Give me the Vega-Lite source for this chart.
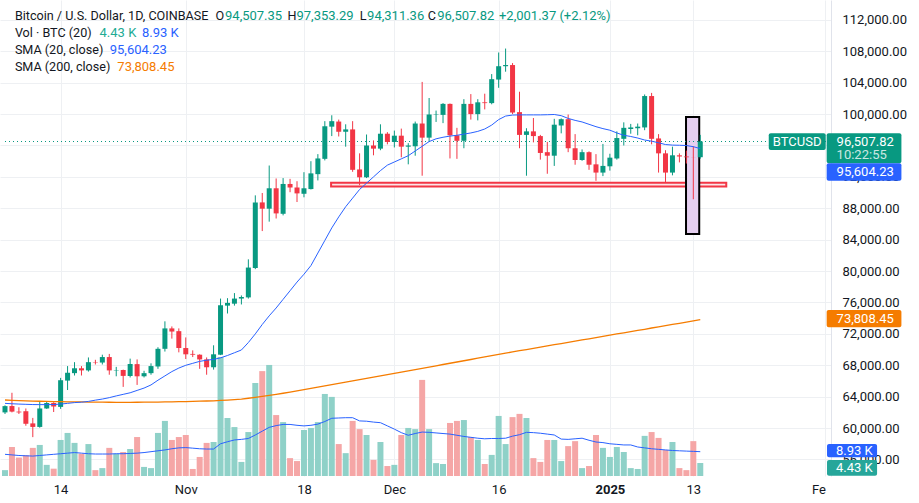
{
  "$schema": "https://vega.github.io/schema/vega-lite/v6.json",
  "width": 831,
  "height": 476,
  "autosize": {"type": "none"},
  "padding": {"left": 0, "top": 0, "right": 88, "bottom": 27},
  "background": "#ffffff",
  "config": {"view": {"stroke": null}, "font": "Roboto"},
  "datasets": {
    "btc": [
    {"d":"2024-10-06","o":62000,"h":62900,"l":61800,"c":62800,"v":2.0,"s20":63150,"s200":63580,"vs":7.4},
    {"d":"2024-10-07","o":62810,"h":64500,"l":62000,"c":62100,"v":9.9,"s20":63100,"s200":63530,"vs":7.2},
    {"d":"2024-10-08","o":62100,"h":62650,"l":61800,"c":62000,"v":6.3,"s20":63060,"s200":63490,"vs":7.0},
    {"d":"2024-10-09","o":62150,"h":62500,"l":60300,"c":60550,"v":7.1,"s20":63030,"s200":63460,"vs":6.9},
    {"d":"2024-10-10","o":60600,"h":61300,"l":58850,"c":60150,"v":9.6,"s20":63000,"s200":63440,"vs":6.8},
    {"d":"2024-10-11","o":60150,"h":63450,"l":60050,"c":62500,"v":10.6,"s20":62990,"s200":63420,"vs":7.0},
    {"d":"2024-10-12","o":62500,"h":63450,"l":62450,"c":63200,"v":3.8,"s20":62990,"s200":63400,"vs":7.2},
    {"d":"2024-10-13","o":63200,"h":63300,"l":62050,"c":62750,"v":2.5,"s20":63000,"s200":63380,"vs":7.4},
    {"d":"2024-10-14","o":62700,"h":66400,"l":62450,"c":66100,"v":12.3,"s20":63060,"s200":63360,"vs":7.6},
    {"d":"2024-10-15","o":66050,"h":67900,"l":64850,"c":67050,"v":14.7,"s20":63150,"s200":63350,"vs":7.8},
    {"d":"2024-10-16","o":67000,"h":68400,"l":66700,"c":67620,"v":11.3,"s20":63250,"s200":63340,"vs":8.0},
    {"d":"2024-10-17","o":67620,"h":67900,"l":66700,"c":67350,"v":7.6,"s20":63300,"s200":63330,"vs":7.8},
    {"d":"2024-10-18","o":67350,"h":69000,"l":67200,"c":68400,"v":10.9,"s20":63400,"s200":63320,"vs":7.6},
    {"d":"2024-10-19","o":68400,"h":68700,"l":68100,"c":68350,"v":2.0,"s20":63560,"s200":63310,"vs":7.5},
    {"d":"2024-10-20","o":68350,"h":69350,"l":68100,"c":69050,"v":2.7,"s20":63700,"s200":63300,"vs":7.5},
    {"d":"2024-10-21","o":69050,"h":69450,"l":66800,"c":67350,"v":9.6,"s20":63880,"s200":63290,"vs":7.5},
    {"d":"2024-10-22","o":67350,"h":67800,"l":66600,"c":67400,"v":7.6,"s20":64100,"s200":63280,"vs":7.6},
    {"d":"2024-10-23","o":67400,"h":67450,"l":65250,"c":66650,"v":8.2,"s20":64300,"s200":63280,"vs":7.6},
    {"d":"2024-10-24","o":66650,"h":68850,"l":66450,"c":68150,"v":9.2,"s20":64500,"s200":63280,"vs":7.7},
    {"d":"2024-10-25","o":68150,"h":68750,"l":65500,"c":66600,"v":13.3,"s20":64800,"s200":63290,"vs":7.8},
    {"d":"2024-10-26","o":66600,"h":67300,"l":66450,"c":67000,"v":3.1,"s20":65100,"s200":63300,"vs":8.0},
    {"d":"2024-10-27","o":67000,"h":68250,"l":66800,"c":67900,"v":2.7,"s20":65500,"s200":63310,"vs":8.3},
    {"d":"2024-10-28","o":67850,"h":70300,"l":67550,"c":70100,"v":14.7,"s20":66100,"s200":63320,"vs":8.6},
    {"d":"2024-10-29","o":70100,"h":73600,"l":69750,"c":72700,"v":18.8,"s20":66650,"s200":63330,"vs":8.9},
    {"d":"2024-10-30","o":72700,"h":72950,"l":71400,"c":72300,"v":12.3,"s20":67200,"s200":63340,"vs":9.3},
    {"d":"2024-10-31","o":72350,"h":72700,"l":69650,"c":70200,"v":13.3,"s20":67650,"s200":63360,"vs":9.6},
    {"d":"2024-11-01","o":70200,"h":71550,"l":68800,"c":69400,"v":14.0,"s20":68000,"s200":63380,"vs":9.7},
    {"d":"2024-11-02","o":69450,"h":69900,"l":69050,"c":69350,"v":2.4,"s20":68250,"s200":63400,"vs":9.5},
    {"d":"2024-11-03","o":69350,"h":69400,"l":67550,"c":68750,"v":6.5,"s20":68500,"s200":63430,"vs":9.3},
    {"d":"2024-11-04","o":68750,"h":69000,"l":66800,"c":67750,"v":11.3,"s20":68650,"s200":63450,"vs":9.2},
    {"d":"2024-11-05","o":67750,"h":70550,"l":67450,"c":69400,"v":11.6,"s20":68750,"s200":63480,"vs":9.2},
    {"d":"2024-11-06","o":69350,"h":76500,"l":69300,"c":75650,"v":40.6,"s20":68950,"s200":63520,"vs":11.0},
    {"d":"2024-11-07","o":75600,"h":76550,"l":74600,"c":75950,"v":19.8,"s20":69250,"s200":63570,"vs":11.7},
    {"d":"2024-11-08","o":75850,"h":77200,"l":75600,"c":76500,"v":16.7,"s20":69600,"s200":63630,"vs":12.3},
    {"d":"2024-11-09","o":76500,"h":76900,"l":75750,"c":76700,"v":4.8,"s20":69950,"s200":63700,"vs":12.5},
    {"d":"2024-11-10","o":76650,"h":81500,"l":76500,"c":80450,"v":15.0,"s20":70900,"s200":63800,"vs":12.8},
    {"d":"2024-11-11","o":80400,"h":89650,"l":80250,"c":88750,"v":31.7,"s20":72000,"s200":63910,"vs":14.0},
    {"d":"2024-11-12","o":88750,"h":89950,"l":85100,"c":87950,"v":35.8,"s20":73200,"s200":64030,"vs":15.3},
    {"d":"2024-11-13","o":87950,"h":93450,"l":86300,"c":90550,"v":37.9,"s20":74300,"s200":64160,"vs":16.6},
    {"d":"2024-11-14","o":90550,"h":91800,"l":86700,"c":87350,"v":20.8,"s20":75300,"s200":64300,"vs":17.2},
    {"d":"2024-11-15","o":87300,"h":91850,"l":87100,"c":91100,"v":18.4,"s20":76400,"s200":64440,"vs":17.6},
    {"d":"2024-11-16","o":91100,"h":91750,"l":90050,"c":90650,"v":6.1,"s20":77500,"s200":64590,"vs":17.6},
    {"d":"2024-11-17","o":90650,"h":91450,"l":88800,"c":89900,"v":5.1,"s20":78600,"s200":64740,"vs":17.3},
    {"d":"2024-11-18","o":89850,"h":92600,"l":89400,"c":90550,"v":15.7,"s20":79600,"s200":64900,"vs":17.1},
    {"d":"2024-11-19","o":90450,"h":94000,"l":90400,"c":92450,"v":16.4,"s20":80700,"s200":65060,"vs":17.3},
    {"d":"2024-11-20","o":92350,"h":94900,"l":91550,"c":94350,"v":18.4,"s20":82300,"s200":65220,"vs":17.7},
    {"d":"2024-11-21","o":94300,"h":99100,"l":94100,"c":98450,"v":28.0,"s20":83900,"s200":65380,"vs":18.6},
    {"d":"2024-11-22","o":98400,"h":99850,"l":97200,"c":99100,"v":27.0,"s20":85500,"s200":65540,"vs":19.7},
    {"d":"2024-11-23","o":99050,"h":99300,"l":97150,"c":97750,"v":10.9,"s20":86900,"s200":65700,"vs":19.8},
    {"d":"2024-11-24","o":97750,"h":98700,"l":95850,"c":98050,"v":7.8,"s20":88200,"s200":65860,"vs":19.9},
    {"d":"2024-11-25","o":98050,"h":99100,"l":92650,"c":92900,"v":18.8,"s20":89300,"s200":66020,"vs":19.9},
    {"d":"2024-11-26","o":92950,"h":95000,"l":90950,"c":91950,"v":16.0,"s20":90400,"s200":66180,"vs":18.8},
    {"d":"2024-11-27","o":91950,"h":97400,"l":91850,"c":96000,"v":14.0,"s20":91200,"s200":66340,"vs":18.7},
    {"d":"2024-11-28","o":96000,"h":96650,"l":94750,"c":95600,"v":5.5,"s20":92000,"s200":66500,"vs":18.4},
    {"d":"2024-11-29","o":95600,"h":98700,"l":95400,"c":97500,"v":11.6,"s20":92800,"s200":66660,"vs":18.2},
    {"d":"2024-11-30","o":97500,"h":97700,"l":96150,"c":96450,"v":3.4,"s20":93500,"s200":66820,"vs":17.1},
    {"d":"2024-12-01","o":96450,"h":97900,"l":95750,"c":97250,"v":3.8,"s20":93900,"s200":66980,"vs":16.0},
    {"d":"2024-12-02","o":97250,"h":98150,"l":94500,"c":95850,"v":14.0,"s20":94300,"s200":67140,"vs":14.8},
    {"d":"2024-12-03","o":95850,"h":96300,"l":93600,"c":96000,"v":16.4,"s20":94700,"s200":67300,"vs":13.9},
    {"d":"2024-12-04","o":95900,"h":99050,"l":94700,"c":98800,"v":16.0,"s20":95300,"s200":67460,"vs":14.5},
    {"d":"2024-12-05","o":98800,"h":104100,"l":92150,"c":97000,"v":32.8,"s20":95900,"s200":67620,"vs":15.0},
    {"d":"2024-12-06","o":97000,"h":102050,"l":96450,"c":99950,"v":16.0,"s20":96500,"s200":67780,"vs":14.9},
    {"d":"2024-12-07","o":99950,"h":100450,"l":99000,"c":100000,"v":4.4,"s20":96850,"s200":67940,"vs":14.7},
    {"d":"2024-12-08","o":99900,"h":101400,"l":98850,"c":101300,"v":4.1,"s20":97050,"s200":68100,"vs":14.5},
    {"d":"2024-12-09","o":101300,"h":101350,"l":94350,"c":97300,"v":18.1,"s20":97200,"s200":68260,"vs":14.3},
    {"d":"2024-12-10","o":97300,"h":98250,"l":94300,"c":96600,"v":18.8,"s20":97300,"s200":68420,"vs":13.9},
    {"d":"2024-12-11","o":96600,"h":101900,"l":95650,"c":101300,"v":19.1,"s20":97450,"s200":68580,"vs":13.5},
    {"d":"2024-12-12","o":101300,"h":102550,"l":99300,"c":100000,"v":13.3,"s20":97600,"s200":68740,"vs":13.2},
    {"d":"2024-12-13","o":100000,"h":101900,"l":99200,"c":101500,"v":12.3,"s20":97800,"s200":68900,"vs":12.9},
    {"d":"2024-12-14","o":101500,"h":102600,"l":100600,"c":101400,"v":4.1,"s20":98100,"s200":69060,"vs":12.7},
    {"d":"2024-12-15","o":101400,"h":105100,"l":101250,"c":104450,"v":7.2,"s20":98600,"s200":69220,"vs":12.8},
    {"d":"2024-12-16","o":104400,"h":107850,"l":103350,"c":106100,"v":20.5,"s20":99300,"s200":69380,"vs":12.8},
    {"d":"2024-12-17","o":106100,"h":108350,"l":105400,"c":106250,"v":10.9,"s20":99750,"s200":69540,"vs":12.9},
    {"d":"2024-12-18","o":106250,"h":106500,"l":100000,"c":100200,"v":20.1,"s20":99880,"s200":69700,"vs":13.6},
    {"d":"2024-12-19","o":100250,"h":102850,"l":95650,"c":97350,"v":21.2,"s20":99900,"s200":69860,"vs":14.1},
    {"d":"2024-12-20","o":97350,"h":98200,"l":92150,"c":97800,"v":19.8,"s20":99900,"s200":70010,"vs":14.9},
    {"d":"2024-12-21","o":97800,"h":99500,"l":96400,"c":97200,"v":6.1,"s20":99900,"s200":70160,"vs":14.8},
    {"d":"2024-12-22","o":97200,"h":97350,"l":94200,"c":95050,"v":4.8,"s20":99900,"s200":70320,"vs":14.6},
    {"d":"2024-12-23","o":95150,"h":96450,"l":92400,"c":94700,"v":12.3,"s20":99920,"s200":70470,"vs":14.3},
    {"d":"2024-12-24","o":94700,"h":99400,"l":93400,"c":98650,"v":12.3,"s20":99950,"s200":70620,"vs":14.0},
    {"d":"2024-12-25","o":98550,"h":99450,"l":97550,"c":99350,"v":5.1,"s20":99800,"s200":70770,"vs":12.6},
    {"d":"2024-12-26","o":99350,"h":99950,"l":95150,"c":95650,"v":10.2,"s20":99450,"s200":70920,"vs":12.5},
    {"d":"2024-12-27","o":95650,"h":97450,"l":93550,"c":94150,"v":11.9,"s20":99200,"s200":71070,"vs":12.7},
    {"d":"2024-12-28","o":94150,"h":95500,"l":94050,"c":95150,"v":2.7,"s20":99000,"s200":71230,"vs":12.9},
    {"d":"2024-12-29","o":95150,"h":95250,"l":92900,"c":93550,"v":3.4,"s20":98700,"s200":71380,"vs":12.2},
    {"d":"2024-12-30","o":93600,"h":94900,"l":91500,"c":92550,"v":14.0,"s20":98400,"s200":71530,"vs":11.6},
    {"d":"2024-12-31","o":92550,"h":96200,"l":92100,"c":93400,"v":9.6,"s20":98150,"s200":71680,"vs":11.4},
    {"d":"2025-01-01","o":93350,"h":94950,"l":92800,"c":94450,"v":6.5,"s20":97950,"s200":71830,"vs":11.0},
    {"d":"2025-01-02","o":94350,"h":97800,"l":94200,"c":96950,"v":9.9,"s20":97600,"s200":71990,"vs":10.8},
    {"d":"2025-01-03","o":96850,"h":98950,"l":96000,"c":98250,"v":8.2,"s20":97300,"s200":72140,"vs":10.6},
    {"d":"2025-01-04","o":98100,"h":98750,"l":97500,"c":98300,"v":2.7,"s20":97150,"s200":72290,"vs":10.6},
    {"d":"2025-01-05","o":98200,"h":98800,"l":97300,"c":98400,"v":2.4,"s20":96950,"s200":72440,"vs":9.9},
    {"d":"2025-01-06","o":98300,"h":102500,"l":97950,"c":102300,"v":13.7,"s20":96700,"s200":72590,"vs":9.6},
    {"d":"2025-01-07","o":102300,"h":102700,"l":96150,"c":96850,"v":15.0,"s20":96550,"s200":72750,"vs":9.3},
    {"d":"2025-01-08","o":96900,"h":97450,"l":92550,"c":95000,"v":13.0,"s20":96350,"s200":72900,"vs":9.1},
    {"d":"2025-01-09","o":95000,"h":95400,"l":91350,"c":92550,"v":8.9,"s20":96120,"s200":73050,"vs":8.9},
    {"d":"2025-01-10","o":92550,"h":95850,"l":92200,"c":94750,"v":11.6,"s20":96050,"s200":73200,"vs":8.7},
    {"d":"2025-01-11","o":94750,"h":95000,"l":93850,"c":94600,"v":2.7,"s20":96030,"s200":73350,"vs":8.6},
    {"d":"2025-01-12","o":94600,"h":95350,"l":93700,"c":94500,"v":2.0,"s20":96000,"s200":73510,"vs":8.5},
    {"d":"2025-01-13","o":94500,"h":95900,"l":89150,"c":94490,"v":11.9,"s20":95850,"s200":73660,"vs":8.4},
    {"d":"2025-01-14","o":94507.35,"h":97353.29,"l":94311.36,"c":96507.82,"v":4.43,"s20":95604.23,"s200":73808.45,"vs":8.3}
    ],
    "one": [{"k": 1}]
  },
  "layer": [
    {
      "layer": [
        {
          "data": {"name": "btc"},
          "mark": {"type": "bar", "width": 6},
          "encoding": {
            "x": {"field": "d", "type": "temporal", "title": null,
              "scale": {"type": "utc", "domain": [{"year": 2024, "month": 10, "date": 6, "utc": true}, {"year": 2025, "month": 2, "date": 1, "hours": 2, "utc": true}]},
              "axis": {
                "title": null,
                "values": [
                  {"year": 2024, "month": 10, "date": 14, "utc": true},
                  {"year": 2024, "month": 11, "date": 1, "utc": true},
                  {"year": 2024, "month": 11, "date": 18, "utc": true},
                  {"year": 2024, "month": 12, "date": 1, "utc": true},
                  {"year": 2024, "month": 12, "date": 16, "utc": true},
                  {"year": 2025, "month": 1, "date": 1, "utc": true},
                  {"year": 2025, "month": 1, "date": 13, "utc": true},
                  {"year": 2025, "month": 2, "date": 1, "utc": true}
                ],
                "labelExpr": "utcdate(datum.value) == 1 ? (utcmonth(datum.value) == 0 ? '2025' : (utcmonth(datum.value) == 1 ? 'Fe' : utcFormat(datum.value, '%b'))) : utcFormat(datum.value, '%-d')",
                "labelFontWeight": {"condition": {"test": "utcmonth(datum.value) == 0 && utcdate(datum.value) == 1", "value": "bold"}, "value": "normal"},
                "labelAlign": {"condition": {"test": "utcmonth(datum.value) == 1 && utcdate(datum.value) == 1", "value": "right"}, "value": "center"},
                "labelFontSize": 13, "labelColor": "#131722", "labelFont": "Roboto",
                "labelPadding": 7, "ticks": false, "tickSize": 0, "domain": false,
                "grid": true, "gridColor": "#eef0f3",
                "labelFlush": false, "labelOverlap": false, "labelBound": false
              }
            },
            "y": {"field": "v", "type": "quantitative", "title": null, "axis": null, "scale": {"domain": [0, 162.46], "nice": false, "zero": true}},
            "color": {"condition": {"test": "datum.c >= datum.o", "value": "#8fd1c8"}, "value": "#f5a6a6"}
          }
        },
        {
          "data": {"name": "btc"},
          "mark": {"type": "line", "color": "#2962ff", "strokeWidth": 1},
          "encoding": {
            "x": {"field": "d", "type": "temporal", "title": null},
            "y": {"field": "vs", "type": "quantitative", "title": null, "axis": null}
          }
        },
        {
          "data": {"name": "one"},
          "mark": {"type": "rect", "color": "#2962ff", "cornerRadius": 2},
          "encoding": {
            "x": {"datum": {"year": 2025, "month": 2, "date": 1, "hours": 5, "minutes": 31, "utc": true}, "type": "temporal"},
            "x2": {"datum": {"year": 2025, "month": 2, "date": 8, "hours": 10, "minutes": 19, "utc": true}},
            "y": {"datum": 10.92, "type": "quantitative", "axis": null},
            "y2": {"datum": 6.38}
          }
        },
        {
          "data": {"name": "one"},
          "mark": {"type": "text", "text": "8.93 K", "align": "left", "baseline": "middle", "fontSize": 13, "color": "#ffffff"},
          "encoding": {
            "x": {"datum": {"year": 2025, "month": 2, "date": 2, "hours": 12, "minutes": 14, "utc": true}, "type": "temporal"},
            "y": {"datum": 8.7, "type": "quantitative", "axis": null}
          }
        },
        {
          "data": {"name": "one"},
          "mark": {"type": "rect", "color": "#26a69a", "cornerRadius": 2},
          "encoding": {
            "x": {"datum": {"year": 2025, "month": 2, "date": 1, "hours": 5, "minutes": 31, "utc": true}, "type": "temporal"},
            "x2": {"datum": {"year": 2025, "month": 2, "date": 8, "hours": 10, "minutes": 19, "utc": true}},
            "y": {"datum": 5.46, "type": "quantitative", "axis": null},
            "y2": {"datum": 0.1}
          }
        },
        {
          "data": {"name": "one"},
          "mark": {"type": "text", "text": "4.43 K", "align": "left", "baseline": "middle", "fontSize": 13, "color": "#ffffff"},
          "encoding": {
            "x": {"datum": {"year": 2025, "month": 2, "date": 2, "hours": 12, "minutes": 14, "utc": true}, "type": "temporal"},
            "y": {"datum": 2.73, "type": "quantitative", "axis": null}
          }
        }
      ]
    },
    {
      "layer": [
        {
          "data": {"name": "btc"},
          "mark": {"type": "rule", "strokeWidth": 1},
          "encoding": {
            "x": {"field": "d", "type": "temporal", "title": null},
            "y": {
              "field": "l", "type": "quantitative", "title": null,
              "scale": {"domain": [53898, 114535], "nice": false, "zero": false},
              "axis": {"orient": "right", "title": null, "values": [56000, 60000, 64000, 68000, 72000, 76000, 80000, 84000, 88000, 92000, 96000, 100000, 104000, 108000, 112000], "format": ",.2f", "grid": true, "gridColor": "#eef0f3", "ticks": false, "tickSize": 0, "labelPadding": 11, "labelAlign": "left", "labelBaseline": "middle", "labelFontSize": 13, "labelColor": "#131722", "labelFont": "Roboto", "domain": true, "domainColor": "#e0e3eb", "labelOverlap": false, "labelFlush": false, "labelBound": false}
            },
            "y2": {"field": "h"},
            "color": {"condition": {"test": "datum.c >= datum.o", "value": "#089981"}, "value": "#f23645"},
            "opacity": {"value": 0}
          }
        },
        {
          "data": {"name": "one"},
          "mark": {"type": "rect", "fill": "#fce6e8", "stroke": "#f23645", "strokeWidth": 2},
          "encoding": {
            "x": {"datum": {"year": 2024, "month": 11, "date": 21, "hours": 21, "minutes": 36, "utc": true}, "type": "temporal"},
            "x2": {"datum": {"year": 2025, "month": 1, "date": 17, "hours": 17, "minutes": 45, "utc": true}},
            "y": {"datum": 91261, "type": "quantitative", "axis": {"orient": "right", "title": null, "values": [56000, 60000, 64000, 68000, 72000, 76000, 80000, 84000, 88000, 92000, 96000, 100000, 104000, 108000, 112000], "format": ",.2f", "grid": true, "gridColor": "#eef0f3", "ticks": false, "tickSize": 0, "labelPadding": 11, "labelAlign": "left", "labelBaseline": "middle", "labelFontSize": 13, "labelColor": "#131722", "labelFont": "Roboto", "domain": true, "domainColor": "#e0e3eb", "labelOverlap": false, "labelFlush": false, "labelBound": false}},
            "y2": {"datum": 90790}
          }
        },
        {
          "data": {"name": "one"},
          "mark": {"type": "rect", "fill": "#e5cff0", "stroke": "#000000", "strokeWidth": 2},
          "encoding": {
            "x": {"datum": {"year": 2025, "month": 1, "date": 11, "hours": 22, "minutes": 48, "utc": true}, "type": "temporal"},
            "x2": {"datum": {"year": 2025, "month": 1, "date": 13, "hours": 20, "minutes": 24, "utc": true}},
            "y": {"datum": 99631, "type": "quantitative", "axis": {"orient": "right", "title": null, "values": [56000, 60000, 64000, 68000, 72000, 76000, 80000, 84000, 88000, 92000, 96000, 100000, 104000, 108000, 112000], "format": ",.2f", "grid": true, "gridColor": "#eef0f3", "ticks": false, "tickSize": 0, "labelPadding": 11, "labelAlign": "left", "labelBaseline": "middle", "labelFontSize": 13, "labelColor": "#131722", "labelFont": "Roboto", "domain": true, "domainColor": "#e0e3eb", "labelOverlap": false, "labelFlush": false, "labelBound": false}},
            "y2": {"datum": 84726}
          }
        },
        {
          "data": {"name": "one"},
          "mark": {"type": "rule", "color": "#089981", "strokeWidth": 1, "strokeDash": [1, 3]},
          "encoding": {
            "x": {"datum": {"year": 2024, "month": 10, "date": 6, "utc": true}, "type": "temporal"},
            "x2": {"datum": {"year": 2025, "month": 2, "date": 1, "hours": 2, "utc": true}},
            "y": {"datum": 96507.82, "type": "quantitative", "axis": {"orient": "right", "title": null, "values": [56000, 60000, 64000, 68000, 72000, 76000, 80000, 84000, 88000, 92000, 96000, 100000, 104000, 108000, 112000], "format": ",.2f", "grid": true, "gridColor": "#eef0f3", "ticks": false, "tickSize": 0, "labelPadding": 11, "labelAlign": "left", "labelBaseline": "middle", "labelFontSize": 13, "labelColor": "#131722", "labelFont": "Roboto", "domain": true, "domainColor": "#e0e3eb", "labelOverlap": false, "labelFlush": false, "labelBound": false}}
          }
        },
        {
          "data": {"name": "btc"},
          "mark": {"type": "rule", "strokeWidth": 1},
          "encoding": {
            "x": {"field": "d", "type": "temporal", "title": null},
            "y": {"field": "l", "type": "quantitative", "title": null, "axis": {"orient": "right", "title": null, "values": [56000, 60000, 64000, 68000, 72000, 76000, 80000, 84000, 88000, 92000, 96000, 100000, 104000, 108000, 112000], "format": ",.2f", "grid": true, "gridColor": "#eef0f3", "ticks": false, "tickSize": 0, "labelPadding": 11, "labelAlign": "left", "labelBaseline": "middle", "labelFontSize": 13, "labelColor": "#131722", "labelFont": "Roboto", "domain": true, "domainColor": "#e0e3eb", "labelOverlap": false, "labelFlush": false, "labelBound": false}},
            "y2": {"field": "h"},
            "color": {"condition": {"test": "datum.c >= datum.o", "value": "#089981"}, "value": "#f23645"}
          }
        },
        {
          "data": {"name": "btc"},
          "mark": {"type": "bar", "width": 5},
          "encoding": {
            "x": {"field": "d", "type": "temporal", "title": null},
            "y": {"field": "o", "type": "quantitative", "title": null, "axis": {"orient": "right", "title": null, "values": [56000, 60000, 64000, 68000, 72000, 76000, 80000, 84000, 88000, 92000, 96000, 100000, 104000, 108000, 112000], "format": ",.2f", "grid": true, "gridColor": "#eef0f3", "ticks": false, "tickSize": 0, "labelPadding": 11, "labelAlign": "left", "labelBaseline": "middle", "labelFontSize": 13, "labelColor": "#131722", "labelFont": "Roboto", "domain": true, "domainColor": "#e0e3eb", "labelOverlap": false, "labelFlush": false, "labelBound": false}},
            "y2": {"field": "c"},
            "color": {"condition": {"test": "datum.c >= datum.o", "value": "#089981"}, "value": "#f23645"}
          }
        },
        {
          "data": {"name": "btc"},
          "mark": {"type": "line", "color": "#f57c00", "strokeWidth": 1.3},
          "encoding": {
            "x": {"field": "d", "type": "temporal", "title": null},
            "y": {"field": "s200", "type": "quantitative", "title": null, "axis": {"orient": "right", "title": null, "values": [56000, 60000, 64000, 68000, 72000, 76000, 80000, 84000, 88000, 92000, 96000, 100000, 104000, 108000, 112000], "format": ",.2f", "grid": true, "gridColor": "#eef0f3", "ticks": false, "tickSize": 0, "labelPadding": 11, "labelAlign": "left", "labelBaseline": "middle", "labelFontSize": 13, "labelColor": "#131722", "labelFont": "Roboto", "domain": true, "domainColor": "#e0e3eb", "labelOverlap": false, "labelFlush": false, "labelBound": false}}
          }
        },
        {
          "data": {"name": "btc"},
          "mark": {"type": "line", "color": "#2962ff", "strokeWidth": 1},
          "encoding": {
            "x": {"field": "d", "type": "temporal", "title": null},
            "y": {"field": "s20", "type": "quantitative", "title": null, "axis": {"orient": "right", "title": null, "values": [56000, 60000, 64000, 68000, 72000, 76000, 80000, 84000, 88000, 92000, 96000, 100000, 104000, 108000, 112000], "format": ",.2f", "grid": true, "gridColor": "#eef0f3", "ticks": false, "tickSize": 0, "labelPadding": 11, "labelAlign": "left", "labelBaseline": "middle", "labelFontSize": 13, "labelColor": "#131722", "labelFont": "Roboto", "domain": true, "domainColor": "#e0e3eb", "labelOverlap": false, "labelFlush": false, "labelBound": false}}
          }
        },
        {
          "data": {"name": "one"},
          "mark": {"type": "rect", "color": "#089981", "cornerRadius": 2},
          "encoding": {
            "x": {"datum": {"year": 2025, "month": 1, "date": 23, "hours": 20, "minutes": 24, "utc": true}, "type": "temporal"},
            "x2": {"datum": {"year": 2025, "month": 2, "date": 1, "hours": 0, "minutes": 58, "utc": true}},
            "y": {"datum": 97554, "type": "quantitative", "axis": {"orient": "right", "title": null, "values": [56000, 60000, 64000, 68000, 72000, 76000, 80000, 84000, 88000, 92000, 96000, 100000, 104000, 108000, 112000], "format": ",.2f", "grid": true, "gridColor": "#eef0f3", "ticks": false, "tickSize": 0, "labelPadding": 11, "labelAlign": "left", "labelBaseline": "middle", "labelFontSize": 13, "labelColor": "#131722", "labelFont": "Roboto", "domain": true, "domainColor": "#e0e3eb", "labelOverlap": false, "labelFlush": false, "labelBound": false}},
            "y2": {"datum": 95426}
          }
        },
        {
          "data": {"name": "one"},
          "mark": {"type": "text", "text": "BTCUSD", "align": "center", "baseline": "middle", "fontSize": 13, "color": "#ffffff"},
          "encoding": {
            "x": {"datum": {"year": 2025, "month": 1, "date": 27, "hours": 22, "minutes": 34, "utc": true}, "type": "temporal"},
            "y": {"datum": 96507.82, "type": "quantitative", "axis": {"orient": "right", "title": null, "values": [56000, 60000, 64000, 68000, 72000, 76000, 80000, 84000, 88000, 92000, 96000, 100000, 104000, 108000, 112000], "format": ",.2f", "grid": true, "gridColor": "#eef0f3", "ticks": false, "tickSize": 0, "labelPadding": 11, "labelAlign": "left", "labelBaseline": "middle", "labelFontSize": 13, "labelColor": "#131722", "labelFont": "Roboto", "domain": true, "domainColor": "#e0e3eb", "labelOverlap": false, "labelFlush": false, "labelBound": false}}
          }
        },
        {
          "data": {"name": "one"},
          "mark": {"type": "rect", "color": "#089981", "cornerRadius": 2},
          "encoding": {
            "x": {"datum": {"year": 2025, "month": 2, "date": 1, "hours": 4, "minutes": 19, "utc": true}, "type": "temporal"},
            "x2": {"datum": {"year": 2025, "month": 2, "date": 11, "hours": 22, "minutes": 19, "utc": true}},
            "y": {"datum": 97554, "type": "quantitative", "axis": {"orient": "right", "title": null, "values": [56000, 60000, 64000, 68000, 72000, 76000, 80000, 84000, 88000, 92000, 96000, 100000, 104000, 108000, 112000], "format": ",.2f", "grid": true, "gridColor": "#eef0f3", "ticks": false, "tickSize": 0, "labelPadding": 11, "labelAlign": "left", "labelBaseline": "middle", "labelFontSize": 13, "labelColor": "#131722", "labelFont": "Roboto", "domain": true, "domainColor": "#e0e3eb", "labelOverlap": false, "labelFlush": false, "labelBound": false}},
            "y2": {"datum": 93732}
          }
        },
        {
          "data": {"name": "one"},
          "mark": {"type": "text", "text": "96,507.82", "align": "left", "baseline": "middle", "fontSize": 13, "color": "#ffffff"},
          "encoding": {
            "x": {"datum": {"year": 2025, "month": 2, "date": 2, "hours": 14, "minutes": 38, "utc": true}, "type": "temporal"},
            "y": {"datum": 96507.82, "type": "quantitative", "axis": {"orient": "right", "title": null, "values": [56000, 60000, 64000, 68000, 72000, 76000, 80000, 84000, 88000, 92000, 96000, 100000, 104000, 108000, 112000], "format": ",.2f", "grid": true, "gridColor": "#eef0f3", "ticks": false, "tickSize": 0, "labelPadding": 11, "labelAlign": "left", "labelBaseline": "middle", "labelFontSize": 13, "labelColor": "#131722", "labelFont": "Roboto", "domain": true, "domainColor": "#e0e3eb", "labelOverlap": false, "labelFlush": false, "labelBound": false}}
          }
        },
        {
          "data": {"name": "one"},
          "mark": {"type": "text", "text": "10:22:55", "align": "left", "baseline": "middle", "fontSize": 13, "color": "#ffffff", "opacity": 0.78},
          "encoding": {
            "x": {"datum": {"year": 2025, "month": 2, "date": 2, "hours": 14, "minutes": 38, "utc": true}, "type": "temporal"},
            "y": {"datum": 94789, "type": "quantitative", "axis": {"orient": "right", "title": null, "values": [56000, 60000, 64000, 68000, 72000, 76000, 80000, 84000, 88000, 92000, 96000, 100000, 104000, 108000, 112000], "format": ",.2f", "grid": true, "gridColor": "#eef0f3", "ticks": false, "tickSize": 0, "labelPadding": 11, "labelAlign": "left", "labelBaseline": "middle", "labelFontSize": 13, "labelColor": "#131722", "labelFont": "Roboto", "domain": true, "domainColor": "#e0e3eb", "labelOverlap": false, "labelFlush": false, "labelBound": false}}
          }
        },
        {
          "data": {"name": "one"},
          "mark": {"type": "rect", "color": "#2962ff", "cornerRadius": 2},
          "encoding": {
            "x": {"datum": {"year": 2025, "month": 2, "date": 1, "hours": 4, "minutes": 19, "utc": true}, "type": "temporal"},
            "x2": {"datum": {"year": 2025, "month": 2, "date": 11, "hours": 22, "minutes": 19, "utc": true}},
            "y": {"datum": 93732, "type": "quantitative", "axis": {"orient": "right", "title": null, "values": [56000, 60000, 64000, 68000, 72000, 76000, 80000, 84000, 88000, 92000, 96000, 100000, 104000, 108000, 112000], "format": ",.2f", "grid": true, "gridColor": "#eef0f3", "ticks": false, "tickSize": 0, "labelPadding": 11, "labelAlign": "left", "labelBaseline": "middle", "labelFontSize": 13, "labelColor": "#131722", "labelFont": "Roboto", "domain": true, "domainColor": "#e0e3eb", "labelOverlap": false, "labelFlush": false, "labelBound": false}},
            "y2": {"datum": 91515}
          }
        },
        {
          "data": {"name": "one"},
          "mark": {"type": "text", "text": "95,604.23", "align": "left", "baseline": "middle", "fontSize": 13, "color": "#ffffff"},
          "encoding": {
            "x": {"datum": {"year": 2025, "month": 2, "date": 2, "hours": 14, "minutes": 38, "utc": true}, "type": "temporal"},
            "y": {"datum": 92624, "type": "quantitative", "axis": {"orient": "right", "title": null, "values": [56000, 60000, 64000, 68000, 72000, 76000, 80000, 84000, 88000, 92000, 96000, 100000, 104000, 108000, 112000], "format": ",.2f", "grid": true, "gridColor": "#eef0f3", "ticks": false, "tickSize": 0, "labelPadding": 11, "labelAlign": "left", "labelBaseline": "middle", "labelFontSize": 13, "labelColor": "#131722", "labelFont": "Roboto", "domain": true, "domainColor": "#e0e3eb", "labelOverlap": false, "labelFlush": false, "labelBound": false}}
          }
        },
        {
          "data": {"name": "one"},
          "mark": {"type": "rect", "color": "#f57c00", "cornerRadius": 2},
          "encoding": {
            "x": {"datum": {"year": 2025, "month": 2, "date": 1, "hours": 4, "minutes": 19, "utc": true}, "type": "temporal"},
            "x2": {"datum": {"year": 2025, "month": 2, "date": 11, "hours": 22, "minutes": 19, "utc": true}},
            "y": {"datum": 75043, "type": "quantitative", "axis": {"orient": "right", "title": null, "values": [56000, 60000, 64000, 68000, 72000, 76000, 80000, 84000, 88000, 92000, 96000, 100000, 104000, 108000, 112000], "format": ",.2f", "grid": true, "gridColor": "#eef0f3", "ticks": false, "tickSize": 0, "labelPadding": 11, "labelAlign": "left", "labelBaseline": "middle", "labelFontSize": 13, "labelColor": "#131722", "labelFont": "Roboto", "domain": true, "domainColor": "#e0e3eb", "labelOverlap": false, "labelFlush": false, "labelBound": false}},
            "y2": {"datum": 72838}
          }
        },
        {
          "data": {"name": "one"},
          "mark": {"type": "text", "text": "73,808.45", "align": "left", "baseline": "middle", "fontSize": 13, "color": "#ffffff"},
          "encoding": {
            "x": {"datum": {"year": 2025, "month": 2, "date": 2, "hours": 14, "minutes": 38, "utc": true}, "type": "temporal"},
            "y": {"datum": 73940, "type": "quantitative", "axis": {"orient": "right", "title": null, "values": [56000, 60000, 64000, 68000, 72000, 76000, 80000, 84000, 88000, 92000, 96000, 100000, 104000, 108000, 112000], "format": ",.2f", "grid": true, "gridColor": "#eef0f3", "ticks": false, "tickSize": 0, "labelPadding": 11, "labelAlign": "left", "labelBaseline": "middle", "labelFontSize": 13, "labelColor": "#131722", "labelFont": "Roboto", "domain": true, "domainColor": "#e0e3eb", "labelOverlap": false, "labelFlush": false, "labelBound": false}}
          }
        },
        {
          "data": {"name": "one"},
          "mark": {"type": "text", "text": "Bitcoin / U.S. Dollar, 1D, COINBASE", "align": "left", "baseline": "middle", "fontSize": 12.6, "color": "#131722"},
          "encoding": {
            "x": {"datum": {"year": 2024, "month": 10, "date": 7, "hours": 10, "minutes": 6, "utc": true}, "type": "temporal"},
            "y": {"datum": 112536, "type": "quantitative", "axis": {"orient": "right", "title": null, "values": [56000, 60000, 64000, 68000, 72000, 76000, 80000, 84000, 88000, 92000, 96000, 100000, 104000, 108000, 112000], "format": ",.2f", "grid": true, "gridColor": "#eef0f3", "ticks": false, "tickSize": 0, "labelPadding": 11, "labelAlign": "left", "labelBaseline": "middle", "labelFontSize": 13, "labelColor": "#131722", "labelFont": "Roboto", "domain": true, "domainColor": "#e0e3eb", "labelOverlap": false, "labelFlush": false, "labelBound": false}}
          }
        },
        {
          "data": {"name": "one"},
          "mark": {"type": "text", "text": "O", "align": "left", "baseline": "middle", "fontSize": 12.6, "color": "#131722"},
          "encoding": {
            "x": {"datum": {"year": 2024, "month": 11, "date": 5, "hours": 6, "minutes": 26, "utc": true}, "type": "temporal"},
            "y": {"datum": 112536, "type": "quantitative", "axis": {"orient": "right", "title": null, "values": [56000, 60000, 64000, 68000, 72000, 76000, 80000, 84000, 88000, 92000, 96000, 100000, 104000, 108000, 112000], "format": ",.2f", "grid": true, "gridColor": "#eef0f3", "ticks": false, "tickSize": 0, "labelPadding": 11, "labelAlign": "left", "labelBaseline": "middle", "labelFontSize": 13, "labelColor": "#131722", "labelFont": "Roboto", "domain": true, "domainColor": "#e0e3eb", "labelOverlap": false, "labelFlush": false, "labelBound": false}}
          }
        },
        {
          "data": {"name": "one"},
          "mark": {"type": "text", "text": "94,507.35", "align": "left", "baseline": "middle", "fontSize": 13, "color": "#089981"},
          "encoding": {
            "x": {"datum": {"year": 2024, "month": 11, "date": 6, "hours": 15, "minutes": 29, "utc": true}, "type": "temporal"},
            "y": {"datum": 112536, "type": "quantitative", "axis": {"orient": "right", "title": null, "values": [56000, 60000, 64000, 68000, 72000, 76000, 80000, 84000, 88000, 92000, 96000, 100000, 104000, 108000, 112000], "format": ",.2f", "grid": true, "gridColor": "#eef0f3", "ticks": false, "tickSize": 0, "labelPadding": 11, "labelAlign": "left", "labelBaseline": "middle", "labelFontSize": 13, "labelColor": "#131722", "labelFont": "Roboto", "domain": true, "domainColor": "#e0e3eb", "labelOverlap": false, "labelFlush": false, "labelBound": false}}
          }
        },
        {
          "data": {"name": "one"},
          "mark": {"type": "text", "text": "H", "align": "left", "baseline": "middle", "fontSize": 12.6, "color": "#131722"},
          "encoding": {
            "x": {"datum": {"year": 2024, "month": 11, "date": 15, "hours": 15, "minutes": 23, "utc": true}, "type": "temporal"},
            "y": {"datum": 112536, "type": "quantitative", "axis": {"orient": "right", "title": null, "values": [56000, 60000, 64000, 68000, 72000, 76000, 80000, 84000, 88000, 92000, 96000, 100000, 104000, 108000, 112000], "format": ",.2f", "grid": true, "gridColor": "#eef0f3", "ticks": false, "tickSize": 0, "labelPadding": 11, "labelAlign": "left", "labelBaseline": "middle", "labelFontSize": 13, "labelColor": "#131722", "labelFont": "Roboto", "domain": true, "domainColor": "#e0e3eb", "labelOverlap": false, "labelFlush": false, "labelBound": false}}
          }
        },
        {
          "data": {"name": "one"},
          "mark": {"type": "text", "text": "97,353.29", "align": "left", "baseline": "middle", "fontSize": 13, "color": "#089981"},
          "encoding": {
            "x": {"datum": {"year": 2024, "month": 11, "date": 16, "hours": 22, "minutes": 5, "utc": true}, "type": "temporal"},
            "y": {"datum": 112536, "type": "quantitative", "axis": {"orient": "right", "title": null, "values": [56000, 60000, 64000, 68000, 72000, 76000, 80000, 84000, 88000, 92000, 96000, 100000, 104000, 108000, 112000], "format": ",.2f", "grid": true, "gridColor": "#eef0f3", "ticks": false, "tickSize": 0, "labelPadding": 11, "labelAlign": "left", "labelBaseline": "middle", "labelFontSize": 13, "labelColor": "#131722", "labelFont": "Roboto", "domain": true, "domainColor": "#e0e3eb", "labelOverlap": false, "labelFlush": false, "labelBound": false}}
          }
        },
        {
          "data": {"name": "one"},
          "mark": {"type": "text", "text": "L", "align": "left", "baseline": "middle", "fontSize": 12.6, "color": "#131722"},
          "encoding": {
            "x": {"datum": {"year": 2024, "month": 11, "date": 26, "hours": 0, "minutes": 20, "utc": true}, "type": "temporal"},
            "y": {"datum": 112536, "type": "quantitative", "axis": {"orient": "right", "title": null, "values": [56000, 60000, 64000, 68000, 72000, 76000, 80000, 84000, 88000, 92000, 96000, 100000, 104000, 108000, 112000], "format": ",.2f", "grid": true, "gridColor": "#eef0f3", "ticks": false, "tickSize": 0, "labelPadding": 11, "labelAlign": "left", "labelBaseline": "middle", "labelFontSize": 13, "labelColor": "#131722", "labelFont": "Roboto", "domain": true, "domainColor": "#e0e3eb", "labelOverlap": false, "labelFlush": false, "labelBound": false}}
          }
        },
        {
          "data": {"name": "one"},
          "mark": {"type": "text", "text": "94,311.36", "align": "left", "baseline": "middle", "fontSize": 13, "color": "#089981"},
          "encoding": {
            "x": {"datum": {"year": 2024, "month": 11, "date": 27, "hours": 1, "minutes": 55, "utc": true}, "type": "temporal"},
            "y": {"datum": 112536, "type": "quantitative", "axis": {"orient": "right", "title": null, "values": [56000, 60000, 64000, 68000, 72000, 76000, 80000, 84000, 88000, 92000, 96000, 100000, 104000, 108000, 112000], "format": ",.2f", "grid": true, "gridColor": "#eef0f3", "ticks": false, "tickSize": 0, "labelPadding": 11, "labelAlign": "left", "labelBaseline": "middle", "labelFontSize": 13, "labelColor": "#131722", "labelFont": "Roboto", "domain": true, "domainColor": "#e0e3eb", "labelOverlap": false, "labelFlush": false, "labelBound": false}}
          }
        },
        {
          "data": {"name": "one"},
          "mark": {"type": "text", "text": "C", "align": "left", "baseline": "middle", "fontSize": 12.6, "color": "#131722"},
          "encoding": {
            "x": {"datum": {"year": 2024, "month": 12, "date": 5, "hours": 19, "minutes": 41, "utc": true}, "type": "temporal"},
            "y": {"datum": 112536, "type": "quantitative", "axis": {"orient": "right", "title": null, "values": [56000, 60000, 64000, 68000, 72000, 76000, 80000, 84000, 88000, 92000, 96000, 100000, 104000, 108000, 112000], "format": ",.2f", "grid": true, "gridColor": "#eef0f3", "ticks": false, "tickSize": 0, "labelPadding": 11, "labelAlign": "left", "labelBaseline": "middle", "labelFontSize": 13, "labelColor": "#131722", "labelFont": "Roboto", "domain": true, "domainColor": "#e0e3eb", "labelOverlap": false, "labelFlush": false, "labelBound": false}}
          }
        },
        {
          "data": {"name": "one"},
          "mark": {"type": "text", "text": "96,507.82", "align": "left", "baseline": "middle", "fontSize": 13, "color": "#089981"},
          "encoding": {
            "x": {"datum": {"year": 2024, "month": 12, "date": 7, "hours": 4, "minutes": 5, "utc": true}, "type": "temporal"},
            "y": {"datum": 112536, "type": "quantitative", "axis": {"orient": "right", "title": null, "values": [56000, 60000, 64000, 68000, 72000, 76000, 80000, 84000, 88000, 92000, 96000, 100000, 104000, 108000, 112000], "format": ",.2f", "grid": true, "gridColor": "#eef0f3", "ticks": false, "tickSize": 0, "labelPadding": 11, "labelAlign": "left", "labelBaseline": "middle", "labelFontSize": 13, "labelColor": "#131722", "labelFont": "Roboto", "domain": true, "domainColor": "#e0e3eb", "labelOverlap": false, "labelFlush": false, "labelBound": false}}
          }
        },
        {
          "data": {"name": "one"},
          "mark": {"type": "text", "text": "+2,001.37 (+2.12%)", "align": "left", "baseline": "middle", "fontSize": 13, "color": "#089981"},
          "encoding": {
            "x": {"datum": {"year": 2024, "month": 12, "date": 16, "hours": 1, "minutes": 12, "utc": true}, "type": "temporal"},
            "y": {"datum": 112536, "type": "quantitative", "axis": {"orient": "right", "title": null, "values": [56000, 60000, 64000, 68000, 72000, 76000, 80000, 84000, 88000, 92000, 96000, 100000, 104000, 108000, 112000], "format": ",.2f", "grid": true, "gridColor": "#eef0f3", "ticks": false, "tickSize": 0, "labelPadding": 11, "labelAlign": "left", "labelBaseline": "middle", "labelFontSize": 13, "labelColor": "#131722", "labelFont": "Roboto", "domain": true, "domainColor": "#e0e3eb", "labelOverlap": false, "labelFlush": false, "labelBound": false}}
          }
        },
        {
          "data": {"name": "one"},
          "mark": {"type": "text", "text": "Vol · BTC (20)", "align": "left", "baseline": "middle", "fontSize": 12.6, "color": "#131722"},
          "encoding": {
            "x": {"datum": {"year": 2024, "month": 10, "date": 7, "hours": 10, "minutes": 6, "utc": true}, "type": "temporal"},
            "y": {"datum": 110370, "type": "quantitative", "axis": {"orient": "right", "title": null, "values": [56000, 60000, 64000, 68000, 72000, 76000, 80000, 84000, 88000, 92000, 96000, 100000, 104000, 108000, 112000], "format": ",.2f", "grid": true, "gridColor": "#eef0f3", "ticks": false, "tickSize": 0, "labelPadding": 11, "labelAlign": "left", "labelBaseline": "middle", "labelFontSize": 13, "labelColor": "#131722", "labelFont": "Roboto", "domain": true, "domainColor": "#e0e3eb", "labelOverlap": false, "labelFlush": false, "labelBound": false}}
          }
        },
        {
          "data": {"name": "one"},
          "mark": {"type": "text", "text": "4.43 K", "align": "left", "baseline": "middle", "fontSize": 13, "color": "#22ab94"},
          "encoding": {
            "x": {"datum": {"year": 2024, "month": 10, "date": 19, "hours": 14, "minutes": 24, "utc": true}, "type": "temporal"},
            "y": {"datum": 110370, "type": "quantitative", "axis": {"orient": "right", "title": null, "values": [56000, 60000, 64000, 68000, 72000, 76000, 80000, 84000, 88000, 92000, 96000, 100000, 104000, 108000, 112000], "format": ",.2f", "grid": true, "gridColor": "#eef0f3", "ticks": false, "tickSize": 0, "labelPadding": 11, "labelAlign": "left", "labelBaseline": "middle", "labelFontSize": 13, "labelColor": "#131722", "labelFont": "Roboto", "domain": true, "domainColor": "#e0e3eb", "labelOverlap": false, "labelFlush": false, "labelBound": false}}
          }
        },
        {
          "data": {"name": "one"},
          "mark": {"type": "text", "text": "8.93 K", "align": "left", "baseline": "middle", "fontSize": 13, "color": "#2962ff"},
          "encoding": {
            "x": {"datum": {"year": 2024, "month": 10, "date": 25, "hours": 17, "minutes": 2, "utc": true}, "type": "temporal"},
            "y": {"datum": 110370, "type": "quantitative", "axis": {"orient": "right", "title": null, "values": [56000, 60000, 64000, 68000, 72000, 76000, 80000, 84000, 88000, 92000, 96000, 100000, 104000, 108000, 112000], "format": ",.2f", "grid": true, "gridColor": "#eef0f3", "ticks": false, "tickSize": 0, "labelPadding": 11, "labelAlign": "left", "labelBaseline": "middle", "labelFontSize": 13, "labelColor": "#131722", "labelFont": "Roboto", "domain": true, "domainColor": "#e0e3eb", "labelOverlap": false, "labelFlush": false, "labelBound": false}}
          }
        },
        {
          "data": {"name": "one"},
          "mark": {"type": "text", "text": "SMA (20, close)", "align": "left", "baseline": "middle", "fontSize": 12.6, "color": "#131722"},
          "encoding": {
            "x": {"datum": {"year": 2024, "month": 10, "date": 7, "hours": 10, "minutes": 6, "utc": true}, "type": "temporal"},
            "y": {"datum": 108166, "type": "quantitative", "axis": {"orient": "right", "title": null, "values": [56000, 60000, 64000, 68000, 72000, 76000, 80000, 84000, 88000, 92000, 96000, 100000, 104000, 108000, 112000], "format": ",.2f", "grid": true, "gridColor": "#eef0f3", "ticks": false, "tickSize": 0, "labelPadding": 11, "labelAlign": "left", "labelBaseline": "middle", "labelFontSize": 13, "labelColor": "#131722", "labelFont": "Roboto", "domain": true, "domainColor": "#e0e3eb", "labelOverlap": false, "labelFlush": false, "labelBound": false}}
          }
        },
        {
          "data": {"name": "one"},
          "mark": {"type": "text", "text": "95,604.23", "align": "left", "baseline": "middle", "fontSize": 13, "color": "#2962ff"},
          "encoding": {
            "x": {"datum": {"year": 2024, "month": 10, "date": 21, "hours": 1, "minutes": 31, "utc": true}, "type": "temporal"},
            "y": {"datum": 108166, "type": "quantitative", "axis": {"orient": "right", "title": null, "values": [56000, 60000, 64000, 68000, 72000, 76000, 80000, 84000, 88000, 92000, 96000, 100000, 104000, 108000, 112000], "format": ",.2f", "grid": true, "gridColor": "#eef0f3", "ticks": false, "tickSize": 0, "labelPadding": 11, "labelAlign": "left", "labelBaseline": "middle", "labelFontSize": 13, "labelColor": "#131722", "labelFont": "Roboto", "domain": true, "domainColor": "#e0e3eb", "labelOverlap": false, "labelFlush": false, "labelBound": false}}
          }
        },
        {
          "data": {"name": "one"},
          "mark": {"type": "text", "text": "SMA (200, close)", "align": "left", "baseline": "middle", "fontSize": 12.6, "color": "#131722"},
          "encoding": {
            "x": {"datum": {"year": 2024, "month": 10, "date": 7, "hours": 10, "minutes": 6, "utc": true}, "type": "temporal"},
            "y": {"datum": 106039, "type": "quantitative", "axis": {"orient": "right", "title": null, "values": [56000, 60000, 64000, 68000, 72000, 76000, 80000, 84000, 88000, 92000, 96000, 100000, 104000, 108000, 112000], "format": ",.2f", "grid": true, "gridColor": "#eef0f3", "ticks": false, "tickSize": 0, "labelPadding": 11, "labelAlign": "left", "labelBaseline": "middle", "labelFontSize": 13, "labelColor": "#131722", "labelFont": "Roboto", "domain": true, "domainColor": "#e0e3eb", "labelOverlap": false, "labelFlush": false, "labelBound": false}}
          }
        },
        {
          "data": {"name": "one"},
          "mark": {"type": "text", "text": "73,808.45", "align": "left", "baseline": "middle", "fontSize": 13, "color": "#f57c00"},
          "encoding": {
            "x": {"datum": {"year": 2024, "month": 10, "date": 22, "hours": 3, "minutes": 46, "utc": true}, "type": "temporal"},
            "y": {"datum": 106039, "type": "quantitative", "axis": {"orient": "right", "title": null, "values": [56000, 60000, 64000, 68000, 72000, 76000, 80000, 84000, 88000, 92000, 96000, 100000, 104000, 108000, 112000], "format": ",.2f", "grid": true, "gridColor": "#eef0f3", "ticks": false, "tickSize": 0, "labelPadding": 11, "labelAlign": "left", "labelBaseline": "middle", "labelFontSize": 13, "labelColor": "#131722", "labelFont": "Roboto", "domain": true, "domainColor": "#e0e3eb", "labelOverlap": false, "labelFlush": false, "labelBound": false}}
          }
        }
      ]
    }
  ],
  "resolve": {"scale": {"y": "independent"}}
}
